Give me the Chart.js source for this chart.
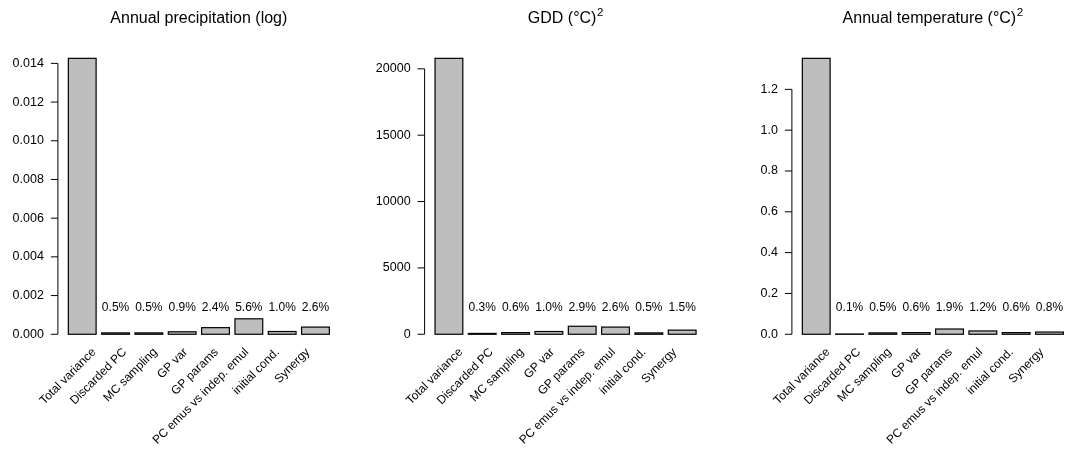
<!DOCTYPE html>
<html>
<head>
<meta charset="utf-8">
<script src="https://cdn.jsdelivr.net/npm/chart.js@4.4.1/dist/chart.umd.min.js"></script>
<style>
  html, body { margin: 0; padding: 0; background: #ffffff; overflow: hidden; width: 1067px; height: 449px; }
  canvas { position: absolute; top: 0; }
</style>
</head>
<body>
<canvas id="panelPrecip" width="367" height="449" style="left:0px"></canvas>
<canvas id="panelGdd" width="367" height="449" style="left:367px"></canvas>
<canvas id="panelTemp" width="367" height="449" style="left:734px"></canvas>
<script>
// Variance decomposition categories (shared by all three panels)
const categories = [
  "Total variance", "Discarded PC", "MC sampling", "GP var",
  "GP params", "PC emus vs indep. emul", "initial cond.", "Synergy"
];

// Annual precipitation (log): total variance and each component's share (%)
const precipTotal = 0.01426;
const precipShares = [0.5, 0.5, 0.9, 2.4, 5.6, 1.0, 2.6];
const precipTicks = [0, 0.002, 0.004, 0.006, 0.008, 0.010, 0.012, 0.014];
const precipTickLabels = ["0.000", "0.002", "0.004", "0.006", "0.008", "0.010", "0.012", "0.014"];

// GDD (°C)^2
const gddTotal = 20790;
const gddShares = [0.3, 0.6, 1.0, 2.9, 2.6, 0.5, 1.5];
const gddTicks = [0, 5000, 10000, 15000, 20000];
const gddTickLabels = ["0", "5000", "10000", "15000", "20000"];

// Annual temperature (°C)^2
const tempTotal = 1.352;
const tempShares = [0.1, 0.5, 0.6, 1.9, 1.2, 0.6, 0.8];
const tempTicks = [0, 0.2, 0.4, 0.6, 0.8, 1.0, 1.2];
const tempTickLabels = ["0.0", "0.2", "0.4", "0.6", "0.8", "1.0", "1.2"];

const FONT = '"Liberation Sans", Arial, Helvetica, sans-serif';

// barplot geometry in user units: bar width 1, gap 0.2, 4% axis padding
const BAR_W = 1, GAP = 0.2, N = categories.length;
const xLo = GAP, xHi = N * (BAR_W + GAP);
const xPad = (xHi - xLo) * 0.04;

// draws outlines, left axis, share labels, rotated category names and the title
const barplotDecor = {
  id: 'barplotDecor',
  afterDatasetsDraw(chart, args, opts) {
    const ctx = chart.ctx;
    const xs = chart.scales.x, ys = chart.scales.y, area = chart.chartArea;
    const meta = chart.getDatasetMeta(0);
    ctx.save();

    // bar outlines
    ctx.strokeStyle = '#000';
    ctx.lineWidth = 1.2;
    meta.data.forEach(bar => {
      const p = bar.getProps(['x', 'y', 'base', 'width'], true);
      ctx.strokeRect(p.x - p.width / 2, Math.min(p.y, p.base), p.width, Math.abs(p.base - p.y));
    });

    // y axis: line spans first to last tick, outward ticks
    const ax = area.left;
    ctx.lineWidth = 1;
    ctx.beginPath();
    ctx.moveTo(ax, ys.getPixelForValue(opts.ticks[0]));
    ctx.lineTo(ax, ys.getPixelForValue(opts.ticks[opts.ticks.length - 1]));
    opts.ticks.forEach(t => {
      const py = ys.getPixelForValue(t);
      ctx.moveTo(ax, py);
      ctx.lineTo(ax - 7, py);
    });
    ctx.stroke();

    ctx.fillStyle = '#000';
    ctx.font = '12.5px ' + FONT;
    ctx.textAlign = 'right';
    ctx.textBaseline = 'middle';
    opts.ticks.forEach((t, i) => ctx.fillText(opts.tickLabels[i], ax - 14, ys.getPixelForValue(t)));

    // share labels above the component bars
    ctx.font = '12px ' + FONT;
    ctx.textAlign = 'center';
    const labelY = ys.getPixelForValue(opts.total * 0.1);
    opts.shares.forEach((s, i) => {
      const bar = meta.data[i + 1];
      ctx.fillText(s.toFixed(1) + '%', bar.x, labelY + 1);
    });

    // rotated category names
    ctx.font = '12px ' + FONT;
    ctx.textAlign = 'right';
    ctx.textBaseline = 'middle';
    categories.forEach((name, i) => {
      const px = xs.getPixelForValue(1.13 + 1.1 * i);
      const py = area.bottom + 5;
      ctx.save();
      ctx.translate(px, py);
      ctx.rotate(-Math.PI / 4);
      ctx.fillText(name, 0, 0);
      ctx.restore();
    });

    // title with optional superscript
    const cx = (area.left + area.right) / 2;
    const ty = 23;
    ctx.textBaseline = 'alphabetic';
    ctx.font = '16px ' + FONT;
    const mainW = ctx.measureText(opts.title).width;
    let supW = 0;
    if (opts.sup) {
      ctx.font = '11.5px ' + FONT;
      supW = ctx.measureText(opts.sup).width + 0.5;
    }
    const startX = cx - (mainW + supW) / 2;
    ctx.textAlign = 'left';
    ctx.font = '16px ' + FONT;
    ctx.fillText(opts.title, startX, ty);
    if (opts.sup) {
      ctx.font = '11.5px ' + FONT;
      ctx.fillText(opts.sup, startX + mainW + 0.5, ty - 7);
    }
    ctx.restore();
  }
};

function makePanel(canvasId, total, shares, ticks, tickLabels, title, sup, padLeft) {
  const values = [total].concat(shares.map(s => total * s / 100));
  const points = values.map((v, i) => ({ x: GAP + i * (BAR_W + GAP) + BAR_W / 2, y: v }));
  const plotWidth = 281.9;
  return new Chart(document.getElementById(canvasId), {
    type: 'bar',
    data: {
      datasets: [{
        data: points,
        backgroundColor: '#bebebe',
        borderWidth: 0,
        categoryPercentage: 1,
        barPercentage: BAR_W / (BAR_W + GAP)
      }]
    },
    options: {
      responsive: false,
      animation: false,
      events: [],
      layout: { padding: { left: padLeft, right: 367 - padLeft - plotWidth, top: 47.3, bottom: 103.7 } },
      scales: {
        x: {
          type: 'linear', display: false, offset: false,
          min: xLo - xPad, max: xHi + xPad,
          afterBuildTicks: s => { s.ticks = [{ value: xLo - xPad }, { value: xHi + xPad }]; }
        },
        y: {
          type: 'linear', display: false,
          min: -0.04 * total, max: 1.04 * total
        }
      },
      plugins: {
        legend: { display: false },
        tooltip: { enabled: false },
        barplotDecor: { total, shares, ticks, tickLabels, title, sup }
      }
    },
    plugins: [barplotDecor]
  });
}

makePanel('panelPrecip', precipTotal, precipShares, precipTicks, precipTickLabels,
  'Annual precipitation (log)', '', 57.9);
makePanel('panelGdd', gddTotal, gddShares, gddTicks, gddTickLabels,
  'GDD (\u00B0C)', '2', 57.6);
makePanel('panelTemp', tempTotal, tempShares, tempTicks, tempTickLabels,
  'Annual temperature (\u00B0C)', '2', 57.9);
</script>
</body>
</html>
